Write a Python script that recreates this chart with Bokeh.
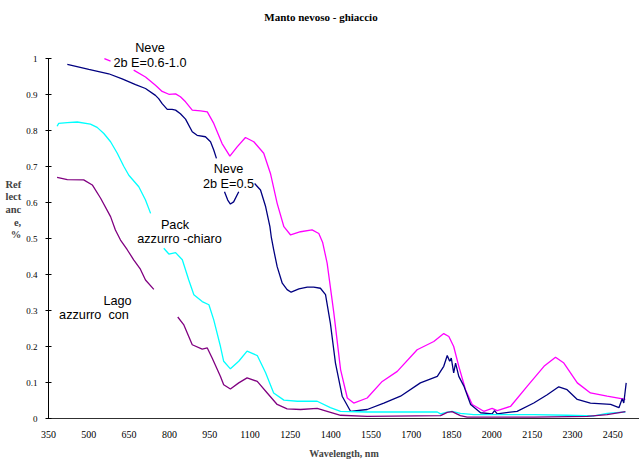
from bokeh.plotting import figure
from bokeh.models import Range1d, FixedTicker, Label
from bokeh.embed import file_html
from bokeh.resources import INLINE

nan = float("nan")

# Snow, 2b E=0.5 (navy)
neve05_nm = [420, 500, 574, 624, 674, 711, 748, 760, 773, 792, 810, 823, 841, 860, 885, 903, 934, 953, 965, 975,
             nan,
             1005, 1017, 1027, 1039, 1058,
             nan,
             1117, 1139, 1158, 1174, 1179, 1188, 1201, 1220, 1238, 1253, 1282, 1313, 1337, 1362, 1381, 1399, 1418,
             1443, 1474, 1536, 1598, 1660, 1734, 1797, 1821, 1834, 1843, 1849, 1858, 1865, 1877, 1896, 1921, 1958,
             2001, 2010, 2020, 2094, 2156, 2206, 2249, 2280, 2318, 2367, 2442, 2473, 2485, 2491, 2500]
neve05_r = [0.984, 0.970, 0.958, 0.944, 0.928, 0.917, 0.898, 0.889, 0.875, 0.859, 0.859, 0.857, 0.847, 0.832, 0.797,
            0.787, 0.783, 0.769, 0.746, 0.723,
            nan,
            0.630, 0.607, 0.596, 0.602, 0.630,
            nan,
            0.653, 0.635, 0.589, 0.533, 0.505, 0.469, 0.422, 0.376, 0.358, 0.351, 0.360, 0.365, 0.365, 0.362, 0.344,
            0.265, 0.154, 0.062, 0.020, 0.025, 0.043, 0.062, 0.099, 0.117, 0.145, 0.175, 0.159, 0.168, 0.127, 0.154,
            0.117, 0.090, 0.039, 0.016, 0.013, 0.022, 0.013, 0.020, 0.043, 0.066, 0.088, 0.080, 0.053, 0.043, 0.039,
            0.030, 0.055, 0.043, 0.099]

# Snow, 2b E=0.6-1.0 (magenta)
neve06_nm = [558, 581,
             nan,
             667, 711, 748, 773, 798, 823, 841, 860, 885, 916, 941, 965, 996, 1025, 1052, 1083, 1114, 1151, 1176,
             1201, 1226, 1251, 1288, 1331, 1356, 1370, 1387, 1412, 1437, 1462, 1486, 1536, 1592, 1648, 1722, 1784,
             1821, 1840, 1858, 1877, 1902, 1927, 1970, 2001, 2020, 2070, 2132, 2194, 2237, 2268, 2318, 2367, 2429,
             2497]
neve06_r = [1.000, 0.993,
            nan,
            0.968, 0.949, 0.926, 0.909, 0.901, 0.902, 0.894, 0.880, 0.857, 0.855, 0.852, 0.820, 0.764, 0.729, 0.755,
            0.781, 0.769, 0.737, 0.681, 0.598, 0.533, 0.510, 0.519, 0.524, 0.514, 0.490, 0.432, 0.293, 0.136, 0.057,
            0.043, 0.057, 0.103, 0.131, 0.191, 0.214, 0.236, 0.228, 0.200, 0.145, 0.080, 0.039, 0.020, 0.028, 0.022,
            0.034, 0.090, 0.145, 0.170, 0.154, 0.099, 0.071, 0.062, 0.053]

# Pack ice, light blue (cyan)
pack_nm = [382, 388, 420, 457, 506, 531, 556, 581, 606, 630, 649, 686, 711, 730,
           nan,
           779, 798, 823, 848, 872, 891, 922, 947, 965, 990, 1002, 1027, 1058, 1089, 1127, 1158, 1188, 1226, 1276,
           1325, 1350, 1399, 1437, 1536, 1797, 1809, 1834, 1852, 1883, 1933, 2032, 2156, 2280, 2380, 2429, 2497]
pack_r = [0.812, 0.820, 0.822, 0.824, 0.818, 0.809, 0.792, 0.769, 0.737, 0.701, 0.676, 0.644, 0.607, 0.570,
          nan,
          0.473, 0.457, 0.461, 0.441, 0.385, 0.344, 0.325, 0.316, 0.274, 0.200, 0.159, 0.138, 0.159, 0.187, 0.175,
          0.127, 0.071, 0.051, 0.048, 0.048, 0.048, 0.030, 0.020, 0.018, 0.018, 0.013, 0.018, 0.020, 0.014, 0.011,
          0.011, 0.011, 0.009, 0.007, 0.014, 0.018]

# Lake ice, blue (purple)
lago_nm = [382, 420, 481, 513, 544, 581, 599, 618, 643, 667, 692, 711, 742,
           nan,
           831, 853, 885, 922, 941, 959, 990, 1002, 1027, 1058, 1089, 1127, 1164, 1201, 1238, 1288, 1350, 1387,
           1437, 1536, 1809, 1834, 1852, 1883, 1908, 2156, 2355, 2429, 2497]
lago_r = [0.670, 0.664, 0.663, 0.649, 0.612, 0.561, 0.524, 0.496, 0.469, 0.441, 0.415, 0.385, 0.359,
          nan,
          0.282, 0.261, 0.205, 0.193, 0.196, 0.168, 0.117, 0.094, 0.082, 0.099, 0.113, 0.103, 0.071, 0.039, 0.027,
          0.025, 0.028, 0.020, 0.009, 0.006, 0.008, 0.017, 0.019, 0.008, 0.004, 0.004, 0.006, 0.011, 0.019]

x_ticks = [350, 500, 650, 800, 950, 1100, 1250, 1400, 1550, 1700, 1850, 2000, 2150, 2300, 2450]
y_ticks = [0, 0.1, 0.2, 0.3, 0.4, 0.5, 0.6, 0.7, 0.8, 0.9, 1.0]
y_tick_labels = ["0", "0.1", "0.2", "0.3", "0.4", "0.5", "0.6", "0.7", "0.8", "0.9", "1"]

SERIF = "Liberation Serif"
SANS = "Liberation Sans"

p = figure(width=639, height=461, output_backend="svg", toolbar_location=None,
           x_range=Range1d(350, 2549.5), y_range=Range1d(0, 1.1616),
           min_border_left=48, min_border_right=0, min_border_top=0, min_border_bottom=42)
p.outline_line_color = None
p.xgrid.visible = False
p.ygrid.visible = False
p.background_fill_color = "white"
p.border_fill_color = "white"

# x axis: plain line, labels only
xa = p.xaxis[0]
xa.ticker = FixedTicker(ticks=x_ticks)
xa.major_tick_in = 0
xa.major_tick_out = 0
xa.minor_tick_line_color = None
xa.axis_line_color = "#303030"
xa.major_label_text_font = SERIF
xa.major_label_text_font_size = "10px"
xa.major_label_text_color = "black"
xa.major_label_standoff = 12
xa.axis_label = "Wavelength, nm"
xa.axis_label_text_font = SERIF
xa.axis_label_text_font_style = "bold"
xa.axis_label_text_font_size = "10px"
xa.axis_label_standoff = 7

# y axis: crossing ticks, line stops at 1, caption written horizontally
ya = p.yaxis[0]
ya.ticker = FixedTicker(ticks=y_ticks)
ya.major_label_overrides = {t: s for t, s in zip(y_ticks, y_tick_labels)}
ya.bounds = (0, 1)
ya.major_tick_in = 3
ya.major_tick_out = 3
ya.minor_tick_line_color = None
ya.axis_line_color = "black"
ya.major_label_text_font = SERIF
ya.major_label_text_font_size = "9px"
ya.major_label_text_color = "black"
ya.major_label_standoff = 8
ya.axis_label = "Ref\nlect\nanc\ne,\n%"
ya.axis_label_orientation = "horizontal"
ya.axis_label_text_align = "left"
ya.axis_label_text_font = SERIF
ya.axis_label_text_font_style = "bold"
ya.axis_label_text_font_size = "10.5px"
ya.axis_label_text_line_height = 1.15
ya.axis_label_standoff = 2

lw = 1.3
p.line(neve06_nm, neve06_r, line_color="#FF00FF", line_width=lw)
p.line(neve05_nm, neve05_r, line_color="#000080", line_width=lw)
p.line(pack_nm, pack_r, line_color="#00FFFF", line_width=lw)
p.line(lago_nm, lago_r, line_color="#800080", line_width=lw)

def add_label(x, y, text, font=SANS, size="12.7px", style="normal", align="center"):
    p.add_layout(Label(x=x, y=y, text=text, text_font=font, text_font_size=size,
                       text_font_style=style, text_align=align, text_baseline="middle",
                       text_color="black"))

# title
add_label(1364, 1.1145, "Manto nevoso - ghiaccio", font=SERIF, size="11px", style="bold")

# series captions
add_label(727.7, 1.0286, "Neve")
add_label(727.7, 0.988, "2b E=0.6-1.0")
add_label(1019.9, 0.693, "Neve")
add_label(1019.9, 0.653, "2b E=0.5")
add_label(820.8, 0.538, "Pack")
add_label(837.5, 0.498, "azzurro -chiaro")
add_label(606.8, 0.3258, "Lago")
add_label(519.3, 0.287, "azzurro \u00a0con")

open("out.html", "w").write(file_html(p, INLINE))
